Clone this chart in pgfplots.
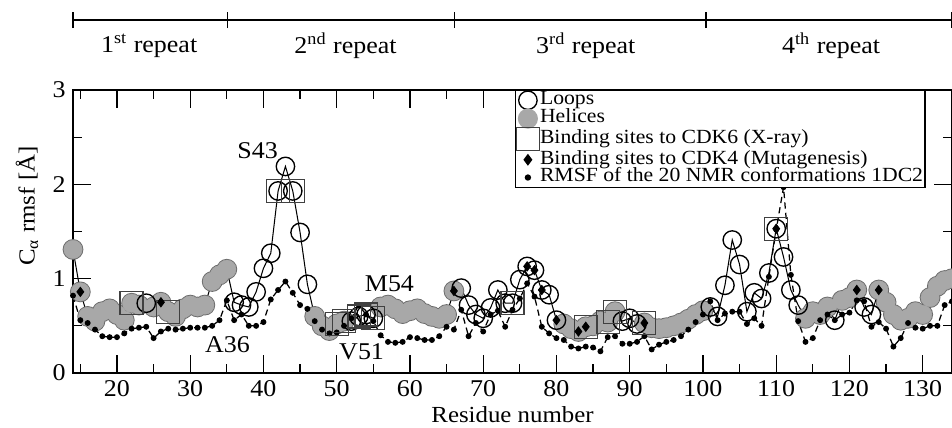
\documentclass[border=0pt]{standalone}
\usepackage{fontspec}
\setmainfont{Liberation Serif}[FakeStretch=1.08]
\usepackage{pgfplots}
\usepackage{pgfplotstable}
\pgfplotsset{compat=1.18}

% res = residue, rms = MD C-alpha rmsf, typ: 0 loop / 1 helix, sq: CDK6 site, dm: CDK4 site, nmr = NMR rmsf
\pgfplotstableread{
res rms typ sq dm nmr
14 1.31 1 0 0 0.82
15 0.86 1 0 1 0.56
16 0.60 1 0 0 0.53
17 0.55 1 0 0 0.46
18 0.65 1 0 0 0.39
19 0.68 1 0 0 0.38
20 0.62 1 0 0 0.38
21 0.56 1 0 0 0.42
22 0.74 1 1 0 0.47
23 0.72 1 0 0 0.48
24 0.74 0 0 0 0.49
25 0.70 1 0 0 0.37
26 0.75 1 0 1 0.44
27 0.65 1 1 0 0.47
28 0.60 1 0 0 0.46
29 0.68 1 0 0 0.47
30 0.72 1 0 0 0.48
31 0.70 1 0 0 0.48
32 0.72 1 0 0 0.48
33 0.97 1 0 0 0.50
34 1.04 1 0 0 0.56
35 1.10 1 0 0 0.77
36 0.75 0 0 0 0.56
37 0.72 0 0 0 0.62
38 0.70 0 0 0 0.50
39 0.86 0 0 0 0.50
40 1.11 0 0 0 0.54
41 1.27 0 0 0 0.78
42 1.93 0 1 0 0.88
43 2.19 0 0 0 0.97
44 1.93 0 1 0 0.85
45 1.49 0 0 0 0.72
46 0.94 0 0 0 0.68
47 0.60 1 0 0 0.55
48 0.50 1 0 0 0.46
49 0.45 1 0 0 0.42
50 0.52 1 1 0 0.43
51 0.55 1 1 0 0.50
52 0.55 0 0 0 0.58
53 0.60 0 1 0 0.72
54 0.62 0 1 0 0.62
55 0.58 0 1 0 0.55
56 0.70 1 0 0 0.40
57 0.72 1 0 0 0.33
58 0.68 1 0 0 0.32
59 0.63 1 0 0 0.33
60 0.66 1 0 0 0.38
61 0.68 1 0 0 0.37
62 0.63 1 0 0 0.35
63 0.60 1 0 0 0.35
64 0.58 1 0 0 0.39
65 0.62 1 0 0 0.49
66 0.87 1 0 1 0.46
67 0.90 0 0 0 0.67
68 0.72 0 0 0 0.39
69 0.62 0 0 0 0.53
70 0.58 0 0 0 0.44
71 0.69 0 0 0 0.62
72 0.88 0 0 0 0.66
73 0.74 0 0 0 0.49
74 0.74 0 1 0 0.67
75 0.99 0 0 0 0.79
76 1.13 0 0 1 0.95
77 1.09 0 0 1 0.81
78 0.88 0 0 1 0.49
79 0.83 0 0 0 0.42
80 0.56 0 0 1 0.37
81 0.52 1 0 0 0.35
82 0.47 1 0 0 0.28
83 0.44 1 0 1 0.26
84 0.49 1 1 1 0.28
85 0.50 1 0 0 0.27
86 0.55 1 0 0 0.23
87 0.54 1 1 0 0.38
88 0.65 1 1 0 0.39
89 0.55 0 0 0 0.31
90 0.58 0 0 0 0.31
91 0.52 0 0 0 0.33
92 0.53 1 1 1 0.39
93 0.48 1 0 0 0.25
94 0.47 1 0 0 0.30
95 0.48 1 0 0 0.33
96 0.50 1 0 0 0.35
97 0.53 1 0 0 0.39
98 0.57 1 0 0 0.46
99 0.62 1 0 0 0.54
100 0.66 1 0 0 0.62
101 0.70 0 0 0 0.76
102 0.60 0 0 0 0.56
103 0.93 0 0 0 0.63
104 1.41 0 0 0 0.65
105 1.15 0 0 0 0.65
106 0.65 0 0 0 0.52
107 0.85 0 0 0 0.58
108 0.79 0 0 0 0.50
109 1.06 0 0 0 1.02
110 1.53 0 1 1 1.52
111 1.23 0 0 0 1.97
112 0.88 0 0 0 1.04
113 0.72 0 0 0 0.55
114 0.58 1 0 0 0.33
115 0.65 1 0 0 0.37
116 0.62 1 0 0 0.56
117 0.70 1 0 0 0.62
118 0.56 0 0 0 0.56
119 0.77 1 0 0 0.62
120 0.80 1 0 0 0.64
121 0.88 1 0 1 0.77
122 0.70 0 0 0 0.76
123 0.62 0 0 0 0.49
124 0.88 1 0 1 0.54
125 0.75 1 0 0 0.47
126 0.62 1 0 0 0.28
127 0.56 1 0 0 0.37
128 0.58 1 0 0 0.53
129 0.65 1 0 0 0.48
130 0.62 1 0 0 0.47
131 0.80 1 0 0 0.50
132 0.92 1 0 0 0.50
133 0.98 1 0 0 0.72
134 1.00 1 0 0 0.76
}\rmsdata

\begin{document}
\begin{tikzpicture}
\begin{axis}[
  scale only axis, width=14.773cm, height=4.756cm,
  xmin=14, xmax=134, ymin=0, ymax=3,
  xtick={20,30,...,130}, minor xtick={15,25,...,135},
  ytick={0,1,2,3}, minor ytick={0.5,1.5,2.5},
  tick align=inside, major tick length=8.5pt, minor tick length=4.5pt,
  tick style={black, line width=0.6pt},
  axis line style={line width=0.8pt},
  /pgf/number format/assume math mode=true,
  tick label style={font=\fontsize{11.5}{12}\selectfont},
  xlabel={Residue number},
  ylabel={C\textsubscript{α} rmsf [Å]},
  label style={font=\fontsize{11}{12}\selectfont},
  every axis x label/.append style={yshift=2pt},
  every axis y label/.append style={at={(ticklabel cs:0.59)}},
  clip=false,
  legend cell align=left,
  legend image code/.code={\draw[#1] plot coordinates {(0.2cm,0cm)};},
  legend style={at={(rel axis cs:0.969,1)}, anchor=north east,
    draw=black, line width=0.8pt, inner sep=0.5pt, outer sep=0pt,
    font=\fontsize{9.6}{9.6}\selectfont, row sep=0pt,
    nodes={text height=6.0pt, text depth=1.9pt, inner sep=0.3pt}},
]
% main MD line
\addplot[forget plot, black, line width=0.5pt, no marks] table[x=res, y=rms] {\rmsdata};
% helices: outline layer then fill layer
\addplot[forget plot, only marks, mark=*, mark size=4.4pt,
  mark options={fill=black!58, draw=black!58, line width=1.1pt}]
  table[x=res, y expr={\thisrow{typ}==1 ? \thisrow{rms} : nan}] {\rmsdata};
\addplot[forget plot, only marks, mark=*, mark size=4.4pt,
  mark options={fill=black!34, draw=black!34, line width=0.2pt}]
  table[x=res, y expr={\thisrow{typ}==1 ? \thisrow{rms} : nan}] {\rmsdata};
% loops
\addplot[forget plot, only marks, mark=o, mark size=4.4pt,
  mark options={black, line width=0.65pt}]
  table[x=res, y expr={\thisrow{typ}==0 ? \thisrow{rms} : nan}] {\rmsdata};
% NMR
\addplot[forget plot, black, line width=0.6pt, dash pattern=on 3pt off 2pt,
  mark=*, mark size=1.1pt, mark options={solid, fill=black}]
  table[x=res, y=nmr] {\rmsdata};
% CDK6 sites
\addplot[forget plot, only marks, mark=square, mark size=5.5pt,
  mark options={black!75, line width=0.6pt}]
  table[x=res, y expr={\thisrow{sq}==1 ? \thisrow{rms} : nan}] {\rmsdata};
% CDK4 sites
\addplot[forget plot, only marks, mark=diamond*, mark size=2.2pt,
  mark options={black, fill=black}]
  table[x=res, y expr={\thisrow{dm}==1 ? \thisrow{rms} : nan}] {\rmsdata};

\addlegendimage{mark=o, mark size=4.4pt, mark options={black, line width=0.65pt}}
\addlegendentry{Loops}
\addlegendimage{mark=*, mark size=4.4pt, mark options={fill=black!34, draw=black!34}}
\addlegendentry{Helices}
\addlegendimage{mark=square, mark size=5.5pt, mark options={black!75, line width=0.6pt}}
\addlegendentry{Binding sites to CDK6 (X-ray)}
\addlegendimage{mark=diamond*, mark size=2.2pt, mark options={black, fill=black}}
\addlegendentry{Binding sites to CDK4 (Mutagenesis)}
\addlegendimage{mark=*, mark size=1.1pt, mark options={black, fill=black}}
\addlegendentry{RMSF of the 20 NMR conformations 1DC2}

% annotations
\node[font=\fontsize{11.5}{12}\selectfont] at (axis cs:39.2,2.36) {S43};
\node[font=\fontsize{11.5}{12}\selectfont] at (axis cs:35.1,0.30) {A36};
\node[font=\fontsize{11.5}{12}\selectfont] at (axis cs:57.2,0.95) {M54};
\node[font=\fontsize{11.5}{12}\selectfont] at (axis cs:53.4,0.23) {V51};

% repeat bracket
\draw[line width=0.7pt] (axis cs:14,3.74) -- (axis cs:134,3.74);
\pgfplotsinvokeforeach{14,35.1,66.1,100.4,134}{
  \draw[line width=0.7pt] (axis cs:#1,3.655) -- (axis cs:#1,3.83);
}
\node[font=\fontsize{11.5}{12}\selectfont] at (axis cs:24.4,3.47) {1\textsuperscript{st} repeat};
\node[font=\fontsize{11.5}{12}\selectfont] at (axis cs:51.2,3.47) {2\textsuperscript{nd} repeat};
\node[font=\fontsize{11.5}{12}\selectfont] at (axis cs:84.0,3.47) {3\textsuperscript{rd} repeat};
\node[font=\fontsize{11.5}{12}\selectfont] at (axis cs:117.5,3.47) {4\textsuperscript{th} repeat};
\end{axis}
\pgfresetboundingbox
\path[use as bounding box] (-1.227cm,-0.908cm) rectangle (14.773cm,6.269cm);
\end{tikzpicture}
\end{document}
